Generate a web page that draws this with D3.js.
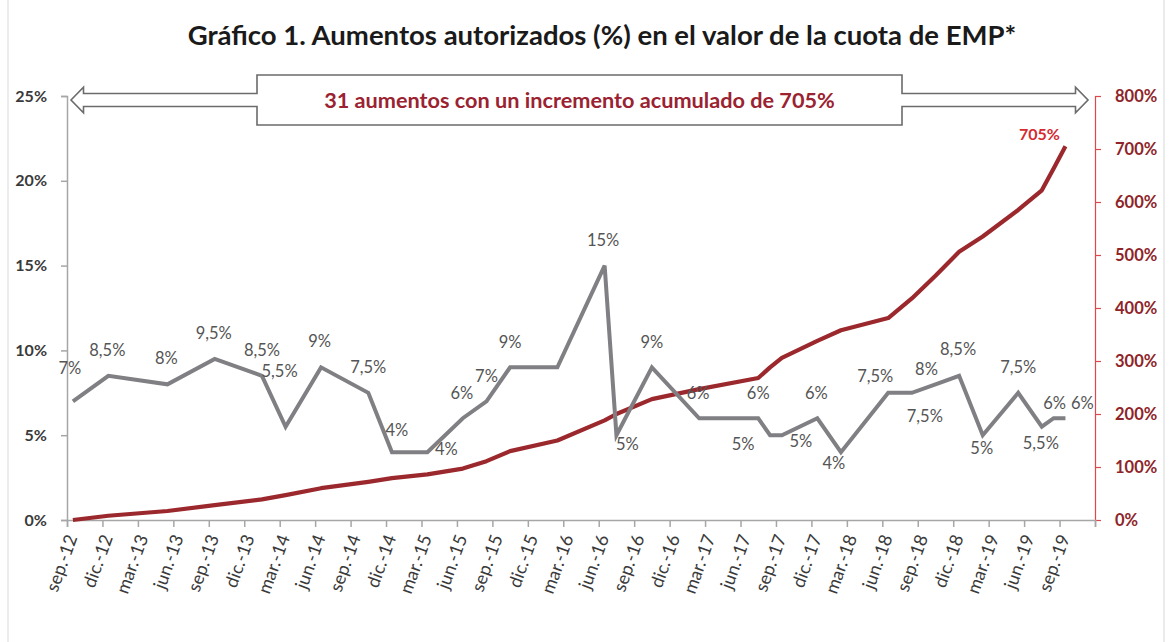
<!DOCTYPE html>
<html><head><meta charset="utf-8">
<script src="https://cdn.jsdelivr.net/npm/d3@7"></script>
<style>
html,body{margin:0;padding:0;background:#fff;}
svg{display:block;}
</style></head>
<body>
<svg id="chart" width="1171" height="642"></svg>
<script>
// ---------- DATA ----------
const months = ["2012-09","2012-12","2013-05","2013-09","2014-01","2014-03","2014-06","2014-10","2014-12","2015-03","2015-06","2015-08","2015-10","2016-02","2016-06","2016-07","2016-10","2017-02","2017-07","2017-08","2017-09","2017-12","2018-02","2018-06","2018-08","2018-10","2018-12","2019-02","2019-05","2019-07","2019-08","2019-09"];
const increases = [7,8.5,8,9.5,8.5,5.5,9,7.5,4,4,6,7,9,9,15,5,9,6,6,5,5,6,4,7.5,7.5,8,8.5,5,7.5,5.5,6,6];
const cumulative = [0,8,17,28,39,47,60,72,79,86,97,111,130,150,188,200,228,247,268,288,306,338,358,381,418,461,506,535,585,622,663,705];
const xTickLabels = ["sep.-12","dic.-12","mar.-13","jun.-13","sep.-13","dic.-13","mar.-14","jun.-14","sep.-14","dic.-14","mar.-15","jun.-15","sep.-15","dic.-15","mar.-16","jun.-16","sep.-16","dic.-16","mar.-17","jun.-17","sep.-17","dic.-17","mar.-18","jun.-18","sep.-18","dic.-18","mar.-19","jun.-19","sep.-19"];
const leftTicks = [0,5,10,15,20,25];
const rightTicks = [0,100,200,300,400,500,600,700,800];
const titleText = "Gráfico 1. Aumentos autorizados (%) en el valor de la cuota de EMP*";
const calloutText = "31 aumentos con un incremento acumulado de 705%";
const finalLabel = "705%";

// label placement offsets (dx, dy) of each data label centre; null = no label
const labelOffsets = [[-3,-33],[-1,-26],[-1,-26],[-1,-25.5],[0,-26],[-6,-56],[-1.5,-26],[0,-26],[5,-22],[19,-3],
  [-1,-25.5],[0,-25],[0,-25.7],null,[-1.5,-25.6],[11,9],[0,-25.7],[-1,-25.5],[0,-25.5],[-27,9],
  [19,6],[-1,-25],[-7,11],[-13,-17],[13,23],[-9,-15],[-1,-26.5],[-1,12.5],[0,-26],[-1,16],[1,-15.5],[17,-15.5]];

// ---------- LAYOUT ----------
const W = 1171, H = 642;
const plot = {left: 67, right: 1095, top: 96, bottom: 520};
const FONT = "Lato, 'Open Sans', sans-serif";
const svg = d3.select("#chart");

// frame
svg.append("rect").attr("x",8).attr("y",-5).attr("width",1156).attr("height",H+10)
  .attr("fill","none").attr("stroke","#d9d9d9").attr("stroke-width",1);

const parseM = d3.timeParse("%Y-%m");
const start = parseM("2012-09");
const monthIdx = months.map(m => d3.timeMonth.count(start, parseM(m)));
const totalMonths = 87;

const x = d3.scaleLinear().domain([0,totalMonths]).range([plot.left, plot.right]);
const yL = d3.scaleLinear().domain([0,25]).range([plot.bottom, plot.top]);
const yR = d3.scaleLinear().domain([0,800]).range([plot.bottom, plot.top]);

// ---------- TITLE ----------
function fitText(sel, target){
  const w = sel.node().getComputedTextLength();
  const fs = parseFloat(sel.attr("font-size"));
  sel.attr("font-size", fs*target/w);
}
const title = svg.append("text").attr("x",602).attr("y",45).attr("text-anchor","middle")
  .attr("font-family",FONT).attr("font-weight","bold").attr("font-size",22).attr("fill","#1a1a1a")
  .text(titleText);
fitText(title, 829);

// ---------- AXES ----------
const axisGray = "#a6a6a6";
// left axis
const gL = svg.append("g").attr("transform",`translate(${plot.left},0)`)
  .call(d3.axisLeft(yL).tickValues(leftTicks).tickSize(6).tickPadding(14).tickFormat(d=>d+"%"));
gL.select(".domain").attr("stroke",axisGray).attr("stroke-width",1.5);
gL.selectAll(".tick line").attr("stroke",axisGray).attr("stroke-width",1.5);
gL.selectAll(".tick text").attr("font-family",FONT).attr("font-weight","bold").attr("font-size",16).attr("fill","#3a3a3a");

// right axis
const gR = svg.append("g").attr("transform",`translate(${plot.right},0)`)
  .call(d3.axisRight(yR).tickValues(rightTicks).tickSize(6).tickPadding(14).tickFormat(d=>d+"%"));
gR.select(".domain").attr("stroke","#e0474c").attr("stroke-width",1.2);
gR.selectAll(".tick line").attr("stroke","#e0474c").attr("stroke-width",1.2);
gR.selectAll(".tick text").attr("font-family",FONT).attr("font-weight","bold").attr("font-size",16.5).attr("fill","#8e2428");

// bottom axis
const qTicks = d3.range(0, totalMonths+1, 3);
const gB = svg.append("g").attr("transform",`translate(0,${plot.bottom})`)
  .call(d3.axisBottom(x).tickValues(qTicks).tickSize(7).tickFormat(""));
gB.select(".domain").attr("stroke",axisGray).attr("stroke-width",1.5);
gB.selectAll(".tick line").attr("stroke",axisGray).attr("stroke-width",1.5);

svg.append("g").selectAll("text").data(xTickLabels).join("text")
  .attr("transform",(d,i)=>`translate(${x(i*3)+4},${plot.bottom+15}) rotate(-70)`)
  .attr("text-anchor","end").attr("dominant-baseline","central")
  .attr("font-family",FONT).attr("font-size",18).attr("fill","#3a3a3a")
  .text(d=>d);

// ---------- LINES ----------
const pts = months.map((m,i)=>({xm: monthIdx[i]+0.5, inc: increases[i], cum: cumulative[i], off: labelOffsets[i]}));

svg.append("path").datum(pts)
  .attr("fill","none").attr("stroke","#9b282c").attr("stroke-width",4.2).attr("stroke-linejoin","round")
  .attr("d", d3.line().x(d=>x(d.xm)).y(d=>yR(d.cum)));

svg.append("path").datum(pts)
  .attr("fill","none").attr("stroke","#808084").attr("stroke-width",4).attr("stroke-linejoin","miter")
  .attr("d", d3.line().x(d=>x(d.xm)).y(d=>yL(d.inc)));

// data labels
const fmt = v => String(v).replace(".",",")+"%";
svg.append("g").selectAll("text").data(pts.filter(d=>d.off)).join("text")
  .attr("x",d=>x(d.xm)+d.off[0]).attr("y",d=>yL(d.inc)+d.off[1])
  .attr("text-anchor","middle").attr("dominant-baseline","central")
  .attr("font-family",FONT).attr("font-size",16.5).attr("fill","#555")
  .text(d=>fmt(d.inc));

// final cumulative label
const last = pts[pts.length-1];
svg.append("text").attr("x",x(last.xm)-26).attr("y",yR(last.cum)-13)
  .attr("text-anchor","middle").attr("dominant-baseline","central")
  .attr("font-family",FONT).attr("font-weight","bold").attr("font-size",16).attr("fill","#d52a30")
  .text(finalLabel);

// ---------- CALLOUT (double arrow) ----------
const cy = yL(25)+4, boxL = 257, boxR = 902, boxT = 75, boxB = 125;
const tipL = plot.left+4, tipR = plot.right-7, headW = 12.5, headH = 12.7, shaft = 6.5;
const poly = [[tipL,cy],[tipL+headW,cy-headH],[tipL+headW,cy-shaft],[boxL,cy-shaft],[boxL,boxT],[boxR,boxT],[boxR,cy-shaft],
  [tipR-headW,cy-shaft],[tipR-headW,cy-headH],[tipR,cy],[tipR-headW,cy+headH],[tipR-headW,cy+shaft],[boxR,cy+shaft],[boxR,boxB],
  [boxL,boxB],[boxL,cy+shaft],[tipL+headW,cy+shaft],[tipL+headW,cy+headH]];
svg.append("path").attr("d", d3.line()(poly)+"Z").attr("fill","#fff").attr("stroke","#6b6b6b").attr("stroke-width",1.6);
const ct = svg.append("text").attr("x",(boxL+boxR)/2).attr("y",cy).attr("text-anchor","middle").attr("dominant-baseline","central")
  .attr("font-family",FONT).attr("font-weight","bold").attr("font-size",17).attr("fill","#9b2230")
  .text(calloutText);
fitText(ct, 511);
</script>
</body></html>
